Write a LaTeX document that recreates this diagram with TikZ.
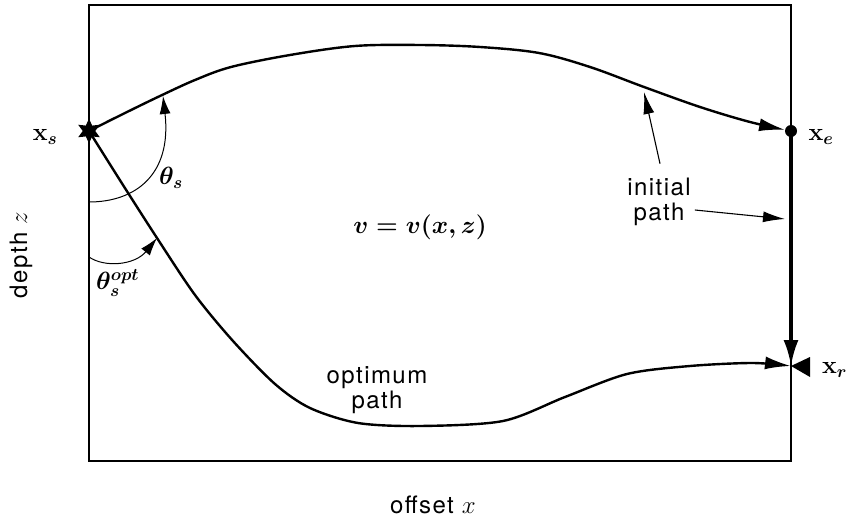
\documentclass[tikz,border=0pt]{standalone}
\usepackage{fontspec}
\usetikzlibrary{arrows.meta,shapes.geometric}
\newfontfamily\lblfont[LetterSpace=6]{TeX Gyre Heros}
\begin{document}
\begin{tikzpicture}[x=1pt,y=-1pt,
  lab/.style={font=\lblfont\fontsize{24}{25.5}\selectfont, inner sep=0pt},
  mth/.style={font=\fontsize{24}{28}\selectfont\boldmath, inner sep=0pt},
  raypath/.style={line width=2.4pt, line join=round},
  bigtip/.style={-{Latex[length=26pt,width=13pt]}},
  arctip/.style={line width=1pt,-{Latex[length=18pt,width=11pt]}},
  ptr/.style={line width=1.1pt,-{Latex[length=22pt,width=11pt]}},
]
\useasboundingbox (0,0) rectangle (848,521);
\draw[line width=2pt] (89,5) rectangle (791,461);

\coordinate (src) at (89,131);
\coordinate (endp) at (791,131);
\coordinate (rcv) at (791,366);

% initial path (top)
\draw[raypath, bigtip, shorten >=6pt] plot[smooth, tension=0.55] coordinates
  {(src) (125,113) (160,96) (195,80) (231,67) (290,55) (355,46) (420,45) (480,47)
   (539,53) (590,67) (644,87) (700,107) (750,122) (endp)};
% optimum path (bottom)
\draw[raypath, bigtip] plot[smooth, tension=0.5] coordinates
  {(src) (123,185) (157,238) (195,295) (233,341) (275,384) (310,408) (358,423)
   (420,426) (503,421) (565,397) (627,374) (690,366) (752,363) (rcv)};
% vertical initial path
\draw[line width=3.5pt, -{Latex[length=26pt,width=15pt]}] (endp) -- (rcv);

% angle arcs
\draw[arctip] (89,202) .. controls (135,202) and (172,175) .. (163,96);
\draw[arctip] (89,257) .. controls (105,268) and (135,265) .. (157,238);

% source, end point, receiver
\node[star, star points=6, star point ratio=2, fill=black, minimum size=25pt, inner sep=0pt] (star) at (src) {};
\fill (endp) circle (6pt);
\fill (rcv) -- (810,357) -- (810,377) -- cycle;

% labels
\node[mth] (xslab) at (45,137) {$\mathbf{x}_s$};
\node[mth] (xelab) at (821,137) {$\mathbf{x}_e$};
\node[mth, anchor=west] (xrlab) at (822,370) {$\mathbf{x}_r$};
\node[mth] (ths) at (171,178) {$\theta_s$};
\node[mth, anchor=west] (thopt) at (96,283) {$\theta_s^{opt}$};
\node[mth] (vel) at (420,227) {$v=v(x,z)$};
\node[lab, rotate=90] (depth) at (21,255) {depth $z$};
\node[lab] (offset) at (433,505) {offset $x$};
\node[lab, align=center] (initlab) at (659,202) {initial\\path};
\node[lab, align=center] (optlab) at (377,390) {optimum\\path};

% pointers
\coordinate (p1) at (644,92);
\coordinate (p2) at (785,219);
\draw[ptr] (initlab.north) ++(1,-14) -- (p1);
\draw[ptr] (initlab.east) ++(4,8) -- (p2);
\end{tikzpicture}
\end{document}
